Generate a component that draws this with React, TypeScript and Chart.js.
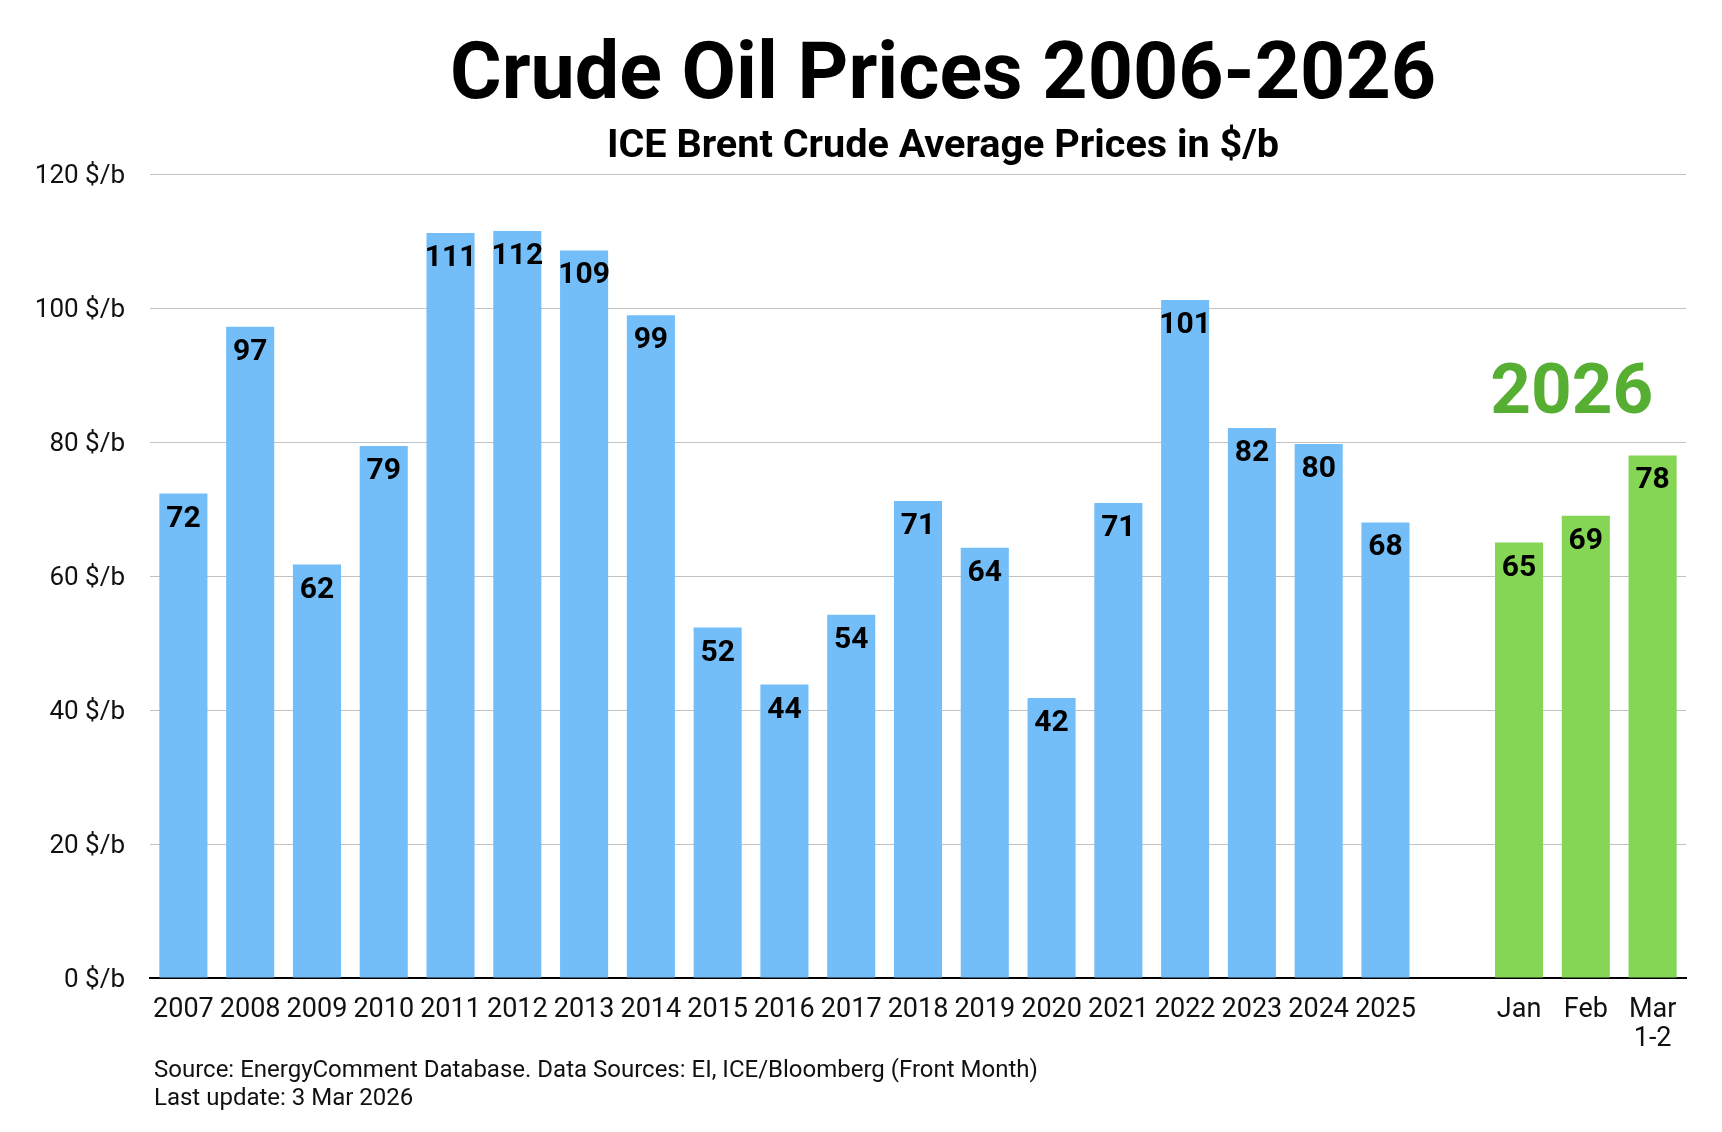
import React, { useEffect, useRef } from 'react';
import { Chart, registerables } from 'chart.js';

Chart.register(...registerables);

// ---- data ----
const yearLabels = ['2007', '2008', '2009', '2010', '2011', '2012', '2013', '2014', '2015', '2016', '2017', '2018', '2019', '2020', '2021', '2022', '2023', '2024', '2025'];
const yearValues = [72.3, 97.2, 61.7, 79.4, 111.2, 111.5, 108.6, 98.9, 52.3, 43.8, 54.2, 71.2, 64.2, 41.8, 70.9, 101.2, 82.1, 79.7, 68.0];
const monthLabels = [['Jan'], ['Feb'], ['Mar', '1-2']];
const monthValues = [65.0, 69.0, 78.0];
const yTickValues = [0, 20, 40, 60, 80, 100, 120];
const yUnit = ' $/b';

const titleText = 'Crude Oil Prices 2006-2026';
const subtitleText = 'ICE Brent Crude Average Prices in $/b';
const footerLines = [
  'Source: EnergyComment Database. Data Sources: EI, ICE/Bloomberg (Front Month)',
  'Last update: 3 Mar 2026',
];
const highlightText = '2026';
const highlightAt = { index: 21, value: 84.4 };

// ---- styles ----
const BLUE = '#73bef8';
const GREEN = '#84d654';
const HIGHLIGHT = '#56ae33';
const W = 1706;
const H = 1116;

const allLabels: any[] = [...yearLabels, '', ...monthLabels];
const allValues: (number | null)[] = [...yearValues, null, ...monthValues];
const allColors = [...yearValues.map(() => BLUE), 'rgba(0,0,0,0)', ...monthValues.map(() => GREEN)];

const textPlugin = {
  id: 'textPlugin',
  afterDatasetsDraw(chart: any) {
    const { ctx } = chart;
    const meta = chart.getDatasetMeta(0);
    ctx.save();
    ctx.font = 'bold 30px Roboto';
    ctx.textAlign = 'center';
    ctx.textBaseline = 'alphabetic';
    ctx.fillStyle = '#000';
    meta.data.forEach((el: any, i: number) => {
      const v = allValues[i];
      if (v == null) return;
      ctx.fillText(String(Math.round(v)), el.x, el.y + 33);
    });
    const xs = chart.scales.x;
    const ys = chart.scales.y;
    ctx.font = 'bold 71px Roboto';
    ctx.fillStyle = HIGHLIGHT;
    ctx.fillText(highlightText, xs.getPixelForValue(highlightAt.index) - 14, ys.getPixelForValue(highlightAt.value));
    ctx.restore();
  },
  afterDraw(chart: any) {
    const { ctx } = chart;
    ctx.save();
    ctx.fillStyle = '#000';
    ctx.textAlign = 'center';
    ctx.textBaseline = 'alphabetic';
    ctx.font = 'bold 79px Roboto';
    ctx.fillText(titleText, 935, 90);
    ctx.font = 'bold 39.6px Roboto';
    ctx.fillText(subtitleText, 935, 148.5);
    ctx.textAlign = 'left';
    ctx.font = '24px Roboto';
    ctx.fillStyle = '#111';
    ctx.fillText(footerLines[0], 146, 1069);
    ctx.fillText(footerLines[1], 146, 1097);
    ctx.restore();
  },
};

export default function App() {
  const ref = useRef<HTMLCanvasElement>(null);
  useEffect(() => {
    if (!ref.current) return;
    const chart = new Chart(ref.current, {
      type: 'bar',
      data: {
        labels: allLabels,
        datasets: [
          {
            data: allValues as any,
            backgroundColor: allColors,
            borderWidth: 0,
            barPercentage: 0.72,
            categoryPercentage: 1,
          },
        ],
      },
      options: {
        animation: false,
        responsive: false,
        devicePixelRatio: 1,
        layout: { padding: { left: 0, right: 28, top: 166, bottom: 0 } },
        plugins: { legend: { display: false }, tooltip: { enabled: false }, title: { display: false } },
        scales: {
          x: {
            grid: { display: false, drawTicks: false },
            border: { display: true, color: '#000', width: 2 },
            ticks: {
              autoSkip: false,
              maxRotation: 0,
              minRotation: 0,
              padding: 17,
              color: '#111',
              font: { family: 'Roboto', size: 27, lineHeight: 1.1 },
            },
            afterFit: (s: any) => { s.height = 146; },
          },
          y: {
            min: 0,
            max: 120,
            border: { display: false },
            grid: {
              drawTicks: false,
              color: (c: any) => (c.tick && c.tick.value === 0 ? 'rgba(0,0,0,0)' : '#c2c2c2'),
              lineWidth: 1,
            },
            afterBuildTicks: (s: any) => { s.ticks = yTickValues.map((v) => ({ value: v })); },
            ticks: {
              padding: 25,
              labelOffset: 2,
              color: '#111',
              font: { family: 'Roboto', size: 26 },
              callback: (v: any) => `${v}${yUnit}`,
            },
            afterFit: (s: any) => { s.width = 142; },
          },
        },
      },
      plugins: [textPlugin],
    });
    return () => chart.destroy();
  }, []);
  return (
    <div style={{ width: W, height: H, background: '#fff' }}>
      <canvas ref={ref} width={W} height={H} style={{ display: 'block', width: W, height: H }} />
    </div>
  );
}
